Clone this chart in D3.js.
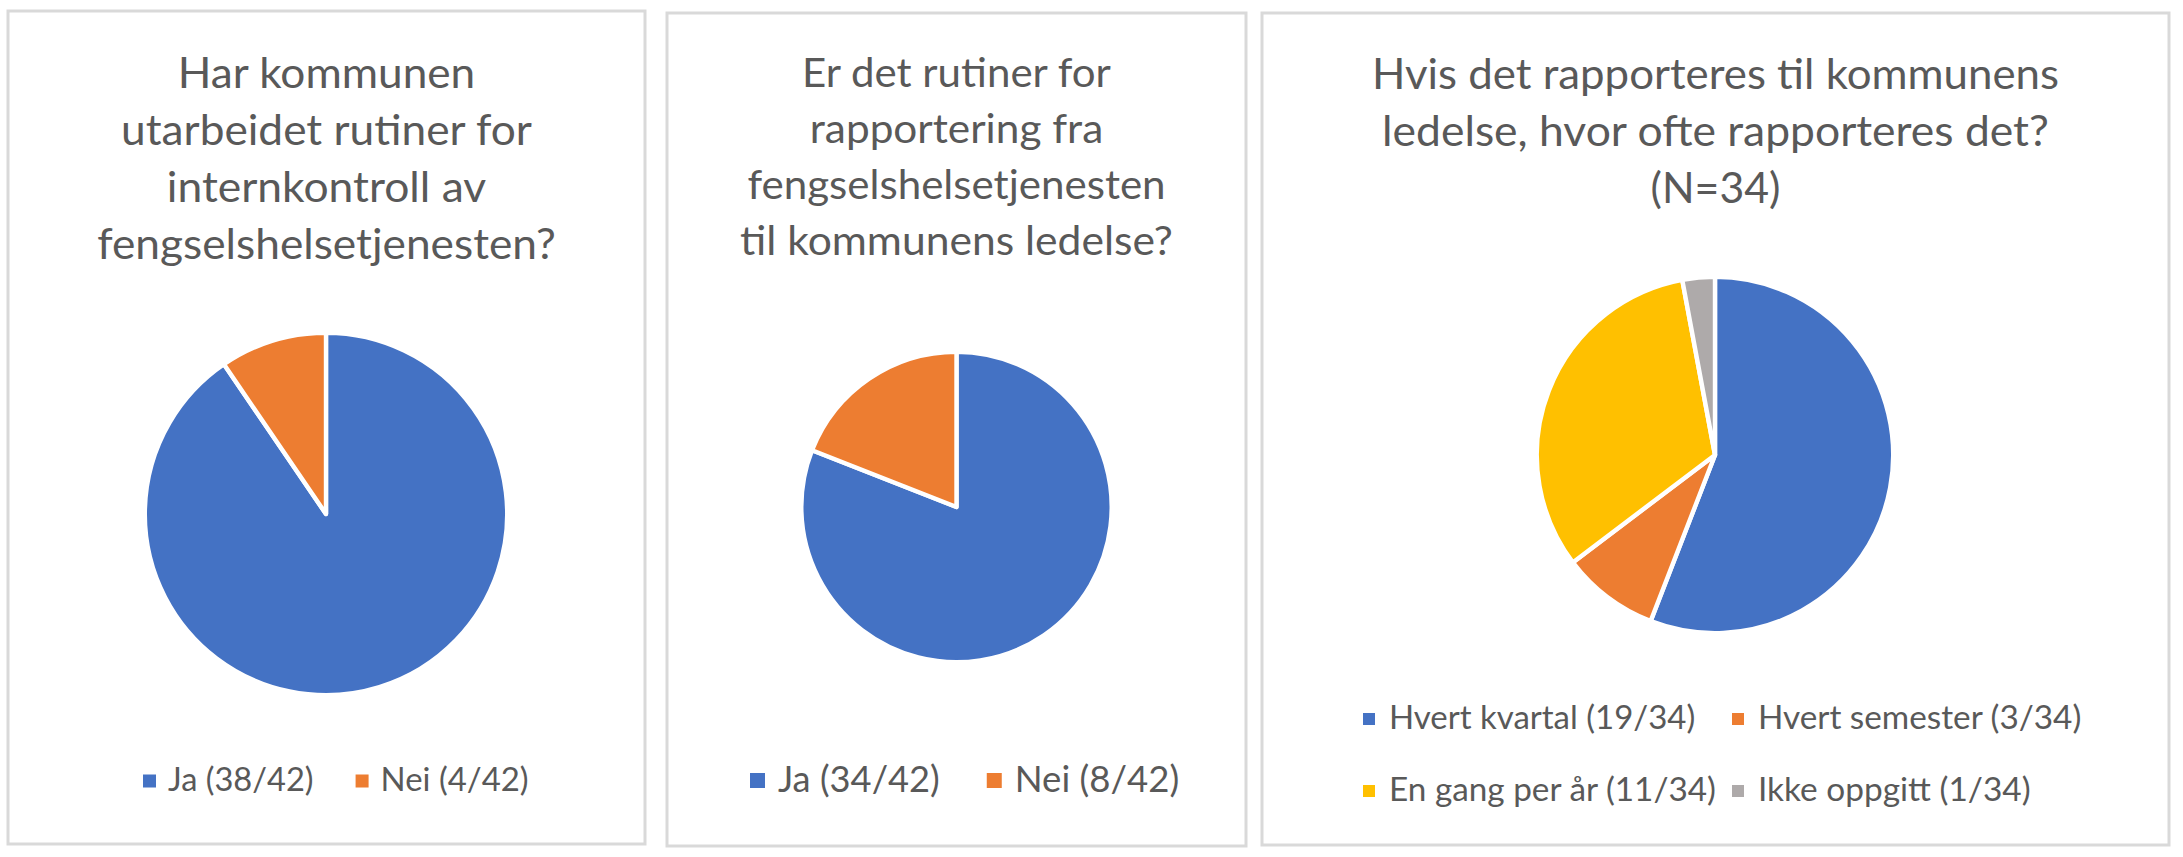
<!DOCTYPE html>
<html><head><meta charset="utf-8">
<script src="https://cdn.jsdelivr.net/npm/d3@7/dist/d3.min.js"></script>
<style>html,body{margin:0;padding:0;background:#fff;overflow:hidden}</style>
</head><body><svg id="c" width="2183" height="857"></svg>
<script>
// ---------- data ----------
const title1 = ["Har kommunen", "utarbeidet rutiner for", "internkontroll av", "fengselshelsetjenesten?"];
const categories1 = ["Ja (38/42)", "Nei (4/42)"];
const values1 = [38, 4];

const title2 = ["Er det rutiner for", "rapportering fra", "fengselshelsetjenesten", "til kommunens ledelse?"];
const categories2 = ["Ja (34/42)", "Nei (8/42)"];
const values2 = [34, 8];

const title3 = ["Hvis det rapporteres til kommunens", "ledelse, hvor ofte rapporteres det?", "(N=34)"];
const categories3 = ["Hvert kvartal (19/34)", "Hvert semester (3/34)", "En gang per år (11/34)", "Ikke oppgitt (1/34)"];
const values3 = [19, 3, 11, 1];

const palette = ["#4472C4", "#ED7D31", "#FFC000", "#AEAAAA"];

// ---------- layout ----------
const panels = [
  {title: title1, cats: categories1, vals: values1, box: [8, 11, 637, 833], cx: 326, cy: 514, r: 179,
   tSize: 47, tY: 88, tStep: 57, lSize: 36, mk: 13, lY: 781, lStart: 143, lGapText: 12, lGapItem: 42, grid: null},
  {title: title2, cats: categories2, vals: values2, box: [667, 13, 579, 833], cx: 956.5, cy: 507, r: 153,
   tSize: 45, tY: 87, tStep: 56, lSize: 40, mk: 15, lY: 780.5, lStart: 750, lGapText: 13, lGapItem: 47, grid: null},
  {title: title3, cats: categories3, vals: values3, box: [1262, 13, 907, 832], cx: 1715, cy: 455, r: 176,
   tSize: 47, tY: 89, tStep: 57, lSize: 36, mk: 12, lGapText: 14,
   grid: {cols: [1363, 1732], rows: [719, 791]}}
];

// Calibri-like advance widths (per 1000 em)
const CW = {' ':226,'(':303,')':303,',':250,'.':252,'/':386,'=':498,'?':463,
  '0':507,'1':507,'2':507,'3':507,'4':507,'5':507,'6':507,'7':507,'8':507,'9':507,
  'E':488,'H':623,'I':252,'J':319,'N':646,
  a:479,b:525,c:423,d:525,e:498,f:305,g:471,h:525,i:229,j:239,k:455,l:229,m:799,n:525,o:527,
  p:525,q:525,r:349,s:391,t:335,u:525,v:452,w:715,x:433,y:453,z:395,'å':479};
function cw(str, size){ let s=0; for(const ch of str) s += (CW[ch]||500); return s/1000*size; }

const svg = d3.select("#c");
svg.append("rect").attr("width",2183).attr("height",857).attr("fill","#fff");
const FONT = "Lato, 'Open Sans', 'DejaVu Sans', sans-serif";
const FK = 0.91;

function text(g, str, x, y, size){
  const w = cw(str, size);
  g.append("text").attr("x", x).attr("y", y)
    .attr("font-family", FONT).attr("font-size", size*FK).attr("fill", "#595959")
    .attr("textLength", w).attr("lengthAdjust", "spacingAndGlyphs")
    .text(str);
  return w;
}

const color = d3.scaleOrdinal().range(palette);

panels.forEach((p, pi) => {
  const g = svg.append("g");
  const [bx, by, bw, bh] = p.box;
  g.append("rect").attr("x", bx).attr("y", by).attr("width", bw).attr("height", bh)
    .attr("fill", "#fff").attr("stroke", "#D9D9D9").attr("stroke-width", 3);

  const mid = bx + bw/2;
  p.title.forEach((line, i) => {
    const w = cw(line, p.tSize);
    text(g, line, mid - w/2, p.tY + i*p.tStep, p.tSize);
  });

  const col = d3.scaleOrdinal().domain(p.cats).range(palette);
  const pie = d3.pie().sort(null).value(d => d.v);
  const arc = d3.arc().innerRadius(0).outerRadius(p.r + 2.2);
  const data = p.cats.map((c, i) => ({c, v: p.vals[i]}));
  g.append("g").attr("transform", `translate(${p.cx},${p.cy})`)
    .selectAll("path").data(pie(data)).join("path")
    .attr("d", arc).attr("fill", d => col(d.data.c))
    .attr("stroke", "#fff").attr("stroke-width", 4.4).attr("stroke-linejoin", "round");

  // legend
  if (!p.grid) {
    let x = p.lStart;
    p.cats.forEach(c => {
      g.append("rect").attr("x", x).attr("y", p.lY - p.mk/2).attr("width", p.mk).attr("height", p.mk).attr("fill", col(c));
      const tx = x + p.mk + p.lGapText;
      const w = text(g, c, tx, p.lY + p.lSize*0.29, p.lSize);
      x = tx + w + p.lGapItem;
    });
  } else {
    p.cats.forEach((c, i) => {
      const x = p.grid.cols[i % 2], yc = p.grid.rows[Math.floor(i/2)];
      g.append("rect").attr("x", x).attr("y", yc - p.mk/2).attr("width", p.mk).attr("height", p.mk).attr("fill", col(c));
      text(g, c, x + p.mk + p.lGapText, yc + p.lSize*0.29, p.lSize);
    });
  }
});
</script></body></html>
